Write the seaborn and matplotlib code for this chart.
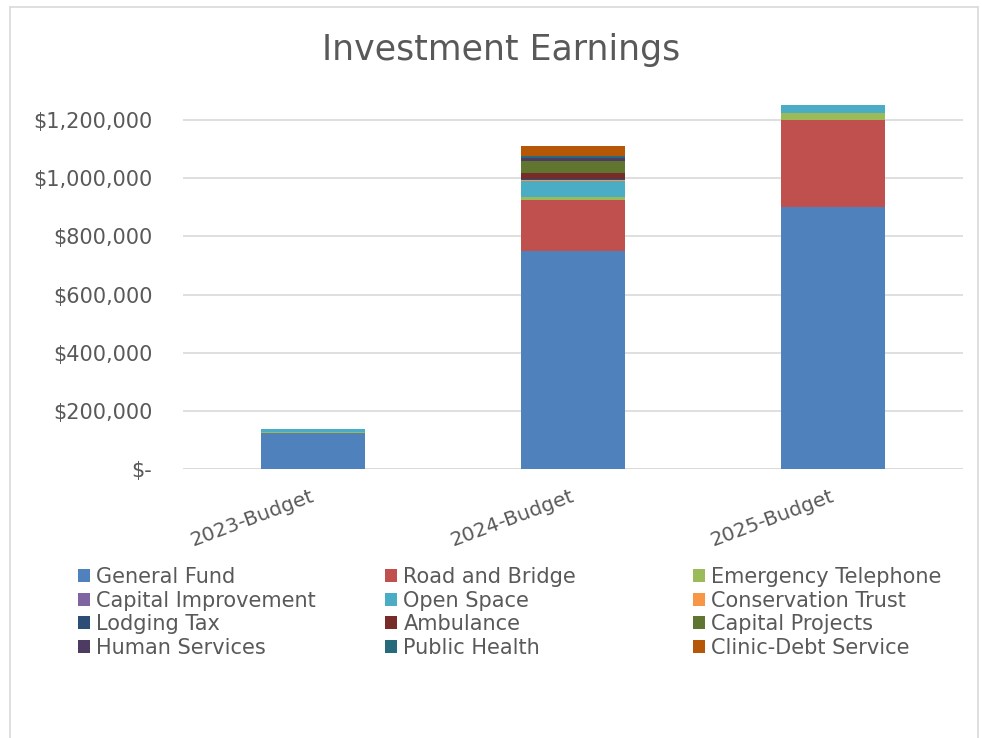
import matplotlib
matplotlib.use("Agg")
import matplotlib.pyplot as plt
import seaborn as sns
import pandas as pd
import numpy as np
from matplotlib.patches import Patch
from matplotlib.lines import Line2D
from matplotlib.ticker import FuncFormatter

categories = ["2023-Budget", "2024-Budget", "2025-Budget"]
series_names = ["General Fund", "Road and Bridge", "Emergency Telephone",
                "Capital Improvement", "Open Space", "Conservation Trust",
                "Lodging Tax", "Ambulance", "Capital Projects",
                "Human Services", "Public Health", "Clinic-Debt Service"]
general_fund = [123000, 750000, 900000]
road_and_bridge = [0, 175000, 300000]
emergency_telephone = [4000, 12000, 26000]
capital_improvement = [0, 0, 0]
open_space = [10000, 54000, 25000]
conservation_trust = [0, 3500, 0]
lodging_tax = [0, 1500, 0]
ambulance = [0, 20500, 0]
capital_projects = [0, 42000, 0]
human_services = [0, 10000, 0]
public_health = [0, 9000, 0]
clinic_debt_service = [0, 35000, 0]
colors = ["#4F81BD", "#C0504D", "#9BBB59", "#8064A2", "#4BACC6", "#F79646",
          "#2C4D75", "#772C2A", "#5F7530", "#4D3B62", "#276A7C", "#B65708"]

values = [general_fund, road_and_bridge, emergency_telephone, capital_improvement,
          open_space, conservation_trust, lodging_tax, ambulance, capital_projects,
          human_services, public_health, clinic_debt_service]

sns.set_theme(style="white")
plt.rcParams['font.family'] = ['DejaVu Sans']
txt = "#595959"

fig = plt.figure(figsize=(9.82, 7.38), dpi=100)
ax = fig.add_axes([183/982, 1-469/738, 780/982, (469-91)/738])

cum = np.cumsum(np.array(values, dtype=float), axis=0)
for i in range(len(series_names) - 1, -1, -1):
    df = pd.DataFrame({"cat": categories, "val": cum[i]})
    sns.barplot(data=df, x="cat", y="val", color=colors[i], width=0.4,
                saturation=1, ax=ax, order=categories, errorbar=None,
                linewidth=0, zorder=3)

ax.set_xlim(-0.5, 2.5)
ax.set_ylim(0, 1300000)
ax.set_yticks(np.arange(0, 1200001, 200000))
ax.yaxis.set_major_formatter(FuncFormatter(lambda v, p: "$-" if v == 0 else f"${v:,.0f}"))
ax.grid(axis="y", color="#D9D9D9", linewidth=1.2, zorder=0)
ax.set_axisbelow(True)
for s in ["top", "right", "left", "bottom"]:
    ax.spines[s].set_visible(False)
ax.axhline(0, color="#D9D9D9", linewidth=1.2, zorder=1)
ax.set_xlabel("")
ax.set_ylabel("")
ax.tick_params(axis="y", labelsize=15, colors=txt, length=0, pad=22)
ax.tick_params(axis="x", labelsize=14.5, colors=txt, length=0, pad=19)
for lab in ax.get_xticklabels():
    lab.set_rotation(20.5)
    lab.set_ha("right")
    lab.set_va("center")
    lab.set_rotation_mode("anchor")

fig.text(0.51, 1-50/738, "Investment Earnings", ha="center", va="center",
         fontsize=25, color=txt)

# legend in three columns, row-major order
col_x = [78/982, 385/982, 693/982]
for c in range(3):
    idx = [r*3 + c for r in range(4)]
    handles = [Patch(facecolor=colors[i], edgecolor="none") for i in idx]
    labels = [series_names[i] for i in idx]
    fig.legend(handles, labels, loc="upper left", bbox_to_anchor=(col_x[c], 1-567/738),
               frameon=False, fontsize=15, labelcolor=txt, handlelength=0.58,
               handleheight=0.58, handletextpad=0.3, labelspacing=0.17,
               borderpad=0, borderaxespad=0)

# outer chart border
bc = "#D9D9D9"
fig.add_artist(Line2D([10/982, 10/982], [0, 1-7/738], color=bc, lw=1.2, transform=fig.transFigure))
fig.add_artist(Line2D([10/982, 978/982], [1-7/738, 1-7/738], color=bc, lw=1.2, transform=fig.transFigure))
fig.add_artist(Line2D([978/982, 978/982], [0, 1-7/738], color=bc, lw=1.2, transform=fig.transFigure))

fig.savefig("out.png", dpi=100)
